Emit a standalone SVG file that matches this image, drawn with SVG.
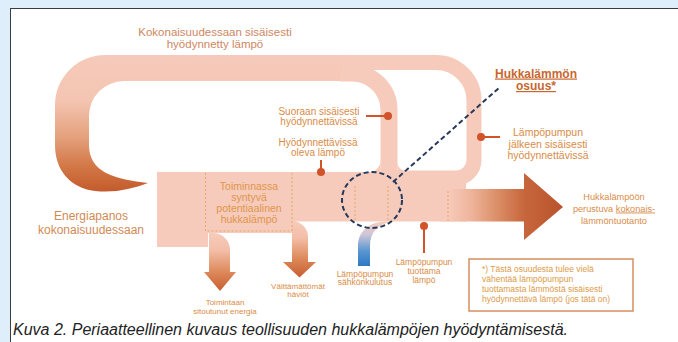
<svg xmlns="http://www.w3.org/2000/svg" width="678" height="342" viewBox="0 0 678 342">
<defs>
<style>
.lbl{font-family:"Liberation Sans",Arial,sans-serif;fill:#d98c48;text-anchor:middle}
.pink{fill:#f7cbbb}
.band{fill:none;stroke:#f7cbbb}
.dot{fill:#d0532a}
.mk{stroke:#d0532a;stroke-width:2;fill:none}
.sep{stroke:#e6a66a;stroke-width:1;stroke-dasharray:2 2;fill:none}
.navy{stroke:#26395a;stroke-width:2;stroke-dasharray:5 3;fill:none}
</style>
<linearGradient id="gLoop" gradientUnits="userSpaceOnUse" x1="0" y1="55" x2="0" y2="192">
<stop offset="0" stop-color="#f6cabb"/><stop offset="0.33" stop-color="#f4c5b2"/><stop offset="0.6" stop-color="#e4a17c"/><stop offset="0.82" stop-color="#d27645"/><stop offset="1" stop-color="#c35a2c"/>
</linearGradient>
<linearGradient id="gBody" gradientUnits="userSpaceOnUse" x1="448" y1="0" x2="526" y2="0">
<stop offset="0" stop-color="#f7cbbb"/><stop offset="0.3" stop-color="#eeb49b"/><stop offset="0.65" stop-color="#da8c64"/><stop offset="1" stop-color="#c6643a"/>
</linearGradient>
<linearGradient id="gHead" gradientUnits="userSpaceOnUse" x1="524" y1="0" x2="563" y2="0">
<stop offset="0" stop-color="#c7663c"/><stop offset="1" stop-color="#b9532c"/>
</linearGradient>
<linearGradient id="gB1" gradientUnits="userSpaceOnUse" x1="0" y1="233" x2="0" y2="291">
<stop offset="0" stop-color="#f7cbbb"/><stop offset="0.3" stop-color="#f3bea8"/><stop offset="0.65" stop-color="#de8c5e"/><stop offset="1" stop-color="#c85e30"/>
</linearGradient>
<linearGradient id="gB2" gradientUnits="userSpaceOnUse" x1="0" y1="221" x2="0" y2="277">
<stop offset="0" stop-color="#f7cbbb"/><stop offset="0.3" stop-color="#f3bea8"/><stop offset="0.65" stop-color="#de8c5e"/><stop offset="1" stop-color="#c85e30"/>
</linearGradient>
<linearGradient id="gBlue" gradientUnits="userSpaceOnUse" x1="0" y1="266" x2="0" y2="222">
<stop offset="0" stop-color="#2d78c2"/><stop offset="0.35" stop-color="#5b97d0"/><stop offset="0.72" stop-color="#cfc6d8"/><stop offset="1" stop-color="#f7cbbb"/>
</linearGradient>
</defs>

<rect x="0" y="0" width="678" height="342" fill="#deeefb"/>
<rect x="10.5" y="8.5" width="700" height="360" fill="#ffffff" stroke="#3c3c3c" stroke-width="1"/>

<g id="connectors">
  <path id="energy-loop" d="M345,55 H105 A50,50 0 0 0 55,105 V145 C55,170 70,188 95,191 C115,193 132,189 148,183 C132,181 118,179 106,173 C95,167 89,158 89,145 V116 A35,35 0 0 1 124,81 H345 Z" fill="url(#gLoop)"/>
  <path class="band" stroke-width="17" d="M340,73 H352 A37,37 0 0 1 389,110 V180"/>
  <path class="band" stroke-width="15" d="M340,62.5 H436 A38,38 0 0 1 474,100.5 V160 A18,18 0 0 1 456,178 H395"/>
  <path class="pink" d="M157,172 H466 V221.5 H292 V233 H208 V247 H157 Z"/>
  <path class="pink" d="M380.5,159 L380.5,173 L367.5,173 A13,13 0 0 0 380.5,160 Z"/>
  <path class="pink" d="M397.5,162 L397.5,171 L406,171 A8.5,8.5 0 0 1 397.5,162.5 Z"/>
  <rect x="440" y="189" width="86" height="32.5" fill="url(#gBody)"/>
  <polygon points="524,173 563,207 524,240" fill="url(#gHead)"/>
  <path d="M209,233 V273 H230 V250 A17,17 0 0 0 213,233 Z" fill="url(#gB1)"/>
  <polygon points="204,272 236,272 220,291" fill="url(#gB1)"/>
  <path d="M292,221 V262.5 H308 V237 A16,16 0 0 0 292,221 Z" fill="url(#gB2)"/>
  <polygon points="283,262 316,262 299.5,277.5" fill="url(#gB2)"/>
  <path d="M358,266 V246 C358,232 368,222 386,221.5 L392,221.5 C378,224 370,232 370,246 V266 Z" fill="url(#gBlue)"/>
  <path class="sep" d="M205.5,173 V231 H292 M292,173 V231"/>
  <path class="sep" d="M355,186 V222 M388,186 V222 M448,191 V221"/>
  <ellipse class="navy" cx="372" cy="200" rx="30" ry="28"/>
  <path class="navy" d="M393,182 L500,87"/>
  <path class="mk" d="M366,116 H388"/><circle class="dot" cx="388" cy="116" r="4"/>
  <path class="mk" d="M321,160 V172"/><circle class="dot" cx="321" cy="172" r="4"/>
  <path class="mk" d="M481,137 H500"/><circle class="dot" cx="481" cy="137" r="4"/>
  <path class="mk" d="M424,226 V253"/><circle class="dot" cx="424" cy="226" r="4"/>
</g>

<g id="n-title"><text class="lbl" style="fill:#cd8763" font-size="11.5" x="215" y="36">Kokonaisuudessaan sisäisesti<tspan x="215" y="47.5">hyödynnetty lämpö</tspan></text></g>
<g id="n-suoraan"><text class="lbl" font-size="10" x="319" y="114.5">Suoraan sisäisesti<tspan x="319" y="125">hyödynnettävissä</tspan></text></g>
<g id="n-hyodynnettavissa"><text class="lbl" font-size="10" x="318" y="145.5">Hyödynnettävissä<tspan x="318" y="155.5">oleva lämpö</tspan></text></g>
<g id="n-osuus"><text class="lbl" style="fill:#c8672f;text-decoration:underline" font-size="12" font-weight="bold" x="536" y="77.5">Hukkalämmön<tspan x="536" y="90">osuus*</tspan></text></g>
<g id="n-jalkeen"><text class="lbl" font-size="10.5" x="548" y="136">Lämpöpumpun<tspan x="548" y="147.5">jälkeen sisäisesti</tspan><tspan x="548" y="159">hyödynnettävissä</tspan></text></g>
<g id="n-tuotanto"><text class="lbl" font-size="9.2" x="614" y="200">Hukkalämpöön<tspan x="614" y="211.5">perustuva <tspan style="text-decoration:underline">kokonais-</tspan></tspan><tspan x="614" y="223.5">lämmöntuotanto</tspan></text></g>
<g id="n-energia"><text class="lbl" style="fill:#d28a55" font-size="12" x="91" y="220">Energiapanos<tspan x="91" y="234">kokonaisuudessaan</tspan></text></g>
<g id="n-toiminnassa"><text class="lbl" style="fill:#e0954a" font-size="10.5" x="249" y="190">Toiminnassa<tspan x="249" y="201">syntyvä</tspan><tspan x="249" y="212">potentiaalinen</tspan><tspan x="249" y="223">hukkalämpö</tspan></text></g>
<g id="n-toimintaan"><text class="lbl" font-size="8" x="225" y="305">Toimintaan<tspan x="225" y="313.5">sitoutunut energia</tspan></text></g>
<g id="n-haviot"><text class="lbl" font-size="8" x="298" y="288.5">Välttämättömät<tspan x="298" y="296.5">häviöt</tspan></text></g>
<g id="n-sahko"><text class="lbl" font-size="8.5" x="365" y="276.5">Lämpöpumpun<tspan x="365" y="285">sähkönkulutus</tspan></text></g>
<g id="n-tuottama"><text class="lbl" font-size="8.5" x="424" y="264.5">Lämpöpumpun<tspan x="424" y="273.5">tuottama</tspan><tspan x="424" y="283">lämpö</tspan></text></g>
<g id="n-footnote">
  <rect x="469" y="259" width="164" height="52" fill="none" stroke="#d58e5e" stroke-width="1.5"/>
  <text class="lbl" style="text-anchor:start;fill:#dd9a48" font-size="8.5" x="482" y="271.5">*) Tästä osuudesta tulee vielä<tspan x="482" y="281.5">vähentää lämpöpumpun</tspan><tspan x="482" y="291.5">tuottamasta lämmöstä sisäisesti</tspan><tspan x="482" y="301.5">hyödynnettävä lämpö (jos tätä on)</tspan></text>
</g>
<g id="caption"><text font-family="Liberation Sans, Arial, sans-serif" font-style="italic" font-size="16" fill="#222222" x="13" y="335">Kuva 2. Periaatteellinen kuvaus teollisuuden hukkalämpöjen hyödyntämisestä.</text></g>
</svg>
